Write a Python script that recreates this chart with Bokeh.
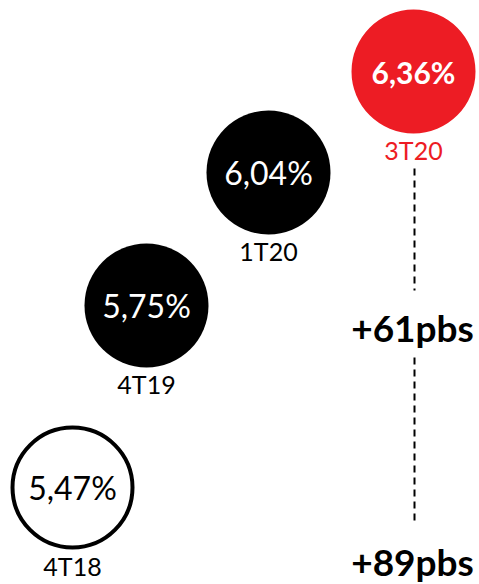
from bokeh.plotting import figure
from bokeh.models import Range1d, ColumnDataSource
from bokeh.core.properties import value
from bokeh.embed import file_html
from bokeh.resources import INLINE

# ---- data ----
periods = ["4T18", "4T19", "1T20", "3T20"]
rates = [5.47, 5.75, 6.04, 6.36]

# ---- layout (pixel positions of the infographic) ----
cx = [72, 146, 268, 413]
cy = [487, 305, 172, 71]
label_dy = 78
fills = ["white", "black", "black", "#ED1C24"]
text_colors = ["black", "white", "white", "white"]
period_colors = ["black", "black", "black", "#ED1C24"]
FONT = "Lato"

rate_labels = [f"{v:.2f}".replace(".", ",") + "%" for v in rates]
changes = [f"+{round((rates[-1] - rates[i]) * 100):d}pbs" for i in (1, 0)]

W, H = 479, 584
p = figure(width=W, height=H, output_backend="svg", toolbar_location=None,
           x_range=Range1d(0, W), y_range=Range1d(H, 0),
           min_border=0)
p.axis.visible = False
p.grid.visible = False
p.outline_line_color = None

src = ColumnDataSource(dict(x=cx, y=cy, fill=fills, tc=text_colors,
                            pc=period_colors, lab=rate_labels, per=periods,
                            py=[y + label_dy for y in cy]))

# dashed connector
p.line(x=[414, 414], y=[168, 290], line_color="black", line_width=2, line_dash="7 5")
p.line(x=[414, 414], y=[357, 523], line_color="black", line_width=2, line_dash="7 5")

# circles
p.circle(x=cx[:1], y=cy[:1], radius=60, fill_color="white", line_color="black", line_width=4)
p.circle(x=cx[1:], y=cy[1:], radius=62, fill_color=fills[1:], line_color=None)

# value labels
reg = ColumnDataSource(dict(x=cx[:3], y=cy[:3], lab=rate_labels[:3], tc=text_colors[:3]))
p.text(x="x", y="y", text="lab", source=reg, text_color="tc",
       text_font=value(FONT), text_font_size="32px",
       text_align="center", text_baseline="middle")
p.text(x=[cx[3]], y=[cy[3]], text=[rate_labels[3]], text_color="white",
       text_font=value(FONT), text_font_style="bold",
       text_font_size="30px", text_align="center", text_baseline="middle")

# period labels
p.text(x="x", y="py", text="per", source=src, text_color="pc",
       text_font=value(FONT), text_font_size="25px",
       text_align="center", text_baseline="middle")

# change labels
p.text(x=[412, 412], y=[327, 561], text=changes, text_color="black",
       text_font=value(FONT), text_font_style="bold",
       text_font_size="37px", text_align="center", text_baseline="middle")

open("out.html", "w").write(file_html(p, INLINE))
